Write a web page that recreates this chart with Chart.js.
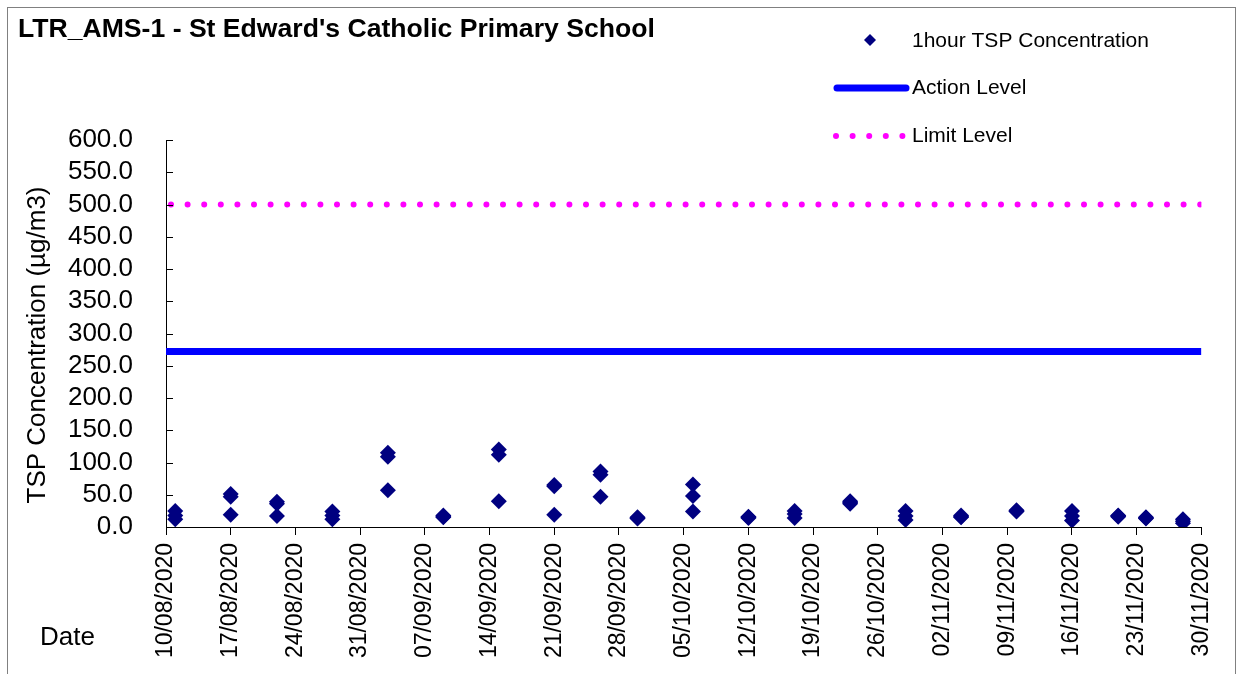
<!DOCTYPE html>
<html>
<head>
<meta charset="utf-8">
<title>LTR_AMS-1 TSP</title>
<script src="https://cdn.jsdelivr.net/npm/chart.js@4/dist/chart.umd.min.js"></script>
<style>
  html, body { margin: 0; padding: 0; background: #fff; }
  canvas { display: block; }
</style>
</head>
<body>
<canvas id="tspChart" width="1237" height="674"></canvas>
<script>
// sampling dates and the three 1-hour readings taken on each
var sampleDates = ['11/08/2020', '17/08/2020', '22/08/2020', '28/08/2020', '03/09/2020', '09/09/2020',
    '15/09/2020', '21/09/2020', '26/09/2020', '30/09/2020', '06/10/2020', '12/10/2020', '17/10/2020',
    '23/10/2020', '29/10/2020', '04/11/2020', '10/11/2020', '16/11/2020', '21/11/2020', '24/11/2020',
    '28/11/2020'];
var reading1 = [25, 51, 39, 24, 115, 18, 120, 65, 86, 15, 66, 16, 25, 40, 25, 18, 26, 25, 18, 15, 12];
var reading2 = [18, 47, 36, 18, 109, 16, 112, 63, 81, 14, 48, 15, 20, 38, 17, 16, 25, 17, 17, 14, 9];
var reading3 = [12, 19, 17, 12, 57, 15, 40, 19, 47, 13, 24, 14, 14, 36, 11, 15, 24, 10, 16, 13, 6];

var actionLevel = 272;
var limitLevel = 500;

var axisStart = '10/08/2020';
var axisEnd = '30/11/2020';
var yTicks = [0, 50, 100, 150, 200, 250, 300, 350, 400, 450, 500, 550, 600];

var FONT = '"Liberation Sans", Arial, sans-serif';
var DAY = 86400000;

function parseDate(s) {
    var p = s.split('/');
    return Date.UTC(+p[2], +p[1] - 1, +p[0]);
}
function dayOffset(s) {
    return Math.round((parseDate(s) - parseDate(axisStart)) / DAY);
}
function fmtDay(d) {
    var t = new Date(parseDate(axisStart) + d * DAY);
    var dd = ('0' + t.getUTCDate()).slice(-2);
    var mm = ('0' + (t.getUTCMonth() + 1)).slice(-2);
    return dd + '/' + mm + '/' + t.getUTCFullYear();
}

var xMax = dayOffset(axisEnd);

var points = [];
sampleDates.forEach(function (d, i) {
    var x = dayOffset(d);
    points.push({ x: x, y: reading1[i] });
    points.push({ x: x, y: reading2[i] });
    points.push({ x: x, y: reading3[i] });
});

// frame, titles, "Date" label, inner y ticks, legend
var decor = {
    id: 'decor',
    beforeDraw: function (chart) {
        var ctx = chart.ctx;
        ctx.save();
        ctx.fillStyle = '#fff';
        ctx.fillRect(0, 0, chart.width, chart.height);
        ctx.strokeStyle = '#808080';
        ctx.lineWidth = 1;
        ctx.strokeRect(7.5, 7.5, 1228, 700);
        ctx.restore();
    },
    afterDraw: function (chart) {
        var ctx = chart.ctx;
        var ys = chart.scales.y;
        var area = chart.chartArea;
        ctx.save();

        // y ticks point into the plot
        ctx.strokeStyle = '#000';
        ctx.lineWidth = 1;
        yTicks.forEach(function (v) {
            var py = Math.round(ys.getPixelForValue(v)) + 0.5;
            ctx.beginPath();
            ctx.moveTo(area.left, py);
            ctx.lineTo(area.left + 7, py);
            ctx.stroke();
        });

        ctx.fillStyle = '#000';
        ctx.textBaseline = 'middle';
        ctx.textAlign = 'left';
        ctx.font = 'bold 26.6px ' + FONT;
        ctx.fillText("LTR_AMS-1 - St Edward's Catholic Primary School", 18, 30);

        ctx.font = '26px ' + FONT;
        ctx.fillText('Date', 40, 638);

        // y axis title, a little below the plot centre as in the original
        ctx.save();
        ctx.translate(38, 345);
        ctx.rotate(-Math.PI / 2);
        ctx.textAlign = 'center';
        ctx.fillText('TSP Concentration (µg/m3)', 0, 0);
        ctx.restore();

        // legend
        ctx.font = '21px ' + FONT;
        ctx.fillStyle = '#000080';
        ctx.beginPath();
        ctx.moveTo(870, 34);
        ctx.lineTo(876, 40);
        ctx.lineTo(870, 46);
        ctx.lineTo(864, 40);
        ctx.closePath();
        ctx.fill();

        ctx.strokeStyle = '#0000ff';
        ctx.lineWidth = 7;
        ctx.lineCap = 'round';
        ctx.beginPath();
        ctx.moveTo(837, 88);
        ctx.lineTo(906, 88);
        ctx.stroke();

        ctx.fillStyle = '#ff00ff';
        for (var k = 0; k < 5; k++) {
            ctx.beginPath();
            ctx.arc(836 + k * 16.6, 136, 3, 0, Math.PI * 2);
            ctx.fill();
        }

        ctx.fillStyle = '#000';
        ctx.fillText('1hour TSP Concentration', 912, 41);
        ctx.fillText('Action Level', 912, 88);
        ctx.fillText('Limit Level', 912, 136);
        ctx.restore();
    }
};

var tspChart = new Chart(document.getElementById('tspChart'), {
    type: 'scatter',
    data: {
        datasets: [{
            label: '1hour TSP Concentration',
            data: points,
            pointStyle: 'rectRot',
            pointRadius: 8,
            pointHoverRadius: 8,
            backgroundColor: '#000080',
            borderColor: '#000080',
            borderWidth: 0,
            order: 1
        }, {
            type: 'line',
            label: 'Action Level',
            data: [{ x: 0, y: actionLevel }, { x: xMax, y: actionLevel }],
            borderColor: '#0000ff',
            borderWidth: 7,
            pointRadius: 0,
            fill: false,
            order: 2
        }, {
            type: 'line',
            label: 'Limit Level',
            data: [{ x: 0, y: limitLevel }, { x: xMax, y: limitLevel }],
            borderColor: '#ff00ff',
            borderWidth: 6,
            borderDash: [0, 16.6],
            borderDashOffset: -5,
            borderCapStyle: 'round',
            pointRadius: 0,
            fill: false,
            order: 3
        }]
    },
    options: {
        responsive: false,
        animation: false,
        layout: { padding: { top: 140, right: 35, left: 0, bottom: 0 } },
        plugins: {
            legend: { display: false },
            tooltip: { enabled: false }
        },
        scales: {
            x: {
                type: 'linear',
                min: 0,
                max: xMax,
                afterFit: function (s) { s.height = 147; },
                afterBuildTicks: function (s) {
                    var t = [];
                    for (var d = 0; d <= xMax; d += 7) t.push({ value: d });
                    s.ticks = t;
                },
                ticks: {
                    autoSkip: false,
                    minRotation: 90,
                    maxRotation: 90,
                    padding: 8,
                    color: '#000',
                    font: { family: FONT, size: 23 },
                    callback: function (v) { return fmtDay(v); }
                },
                grid: { drawOnChartArea: false, drawTicks: true, tickLength: 8, color: '#000' },
                border: { display: true, color: '#000', width: 1 }
            },
            y: {
                min: 0,
                max: 600,
                afterFit: function (s) { s.width = 166; },
                afterBuildTicks: function (s) {
                    s.ticks = yTicks.map(function (v) { return { value: v }; });
                },
                ticks: {
                    autoSkip: false,
                    padding: 33,
                    color: '#000',
                    font: { family: FONT, size: 26, lineHeight: 1 },
                    callback: function (v) { return v.toFixed(1); }
                },
                grid: { drawOnChartArea: false, drawTicks: false },
                border: { display: true, color: '#000', width: 1 },
                title: { display: false }
            }
        }
    },
    plugins: [decor]
});
</script>
</body>
</html>
